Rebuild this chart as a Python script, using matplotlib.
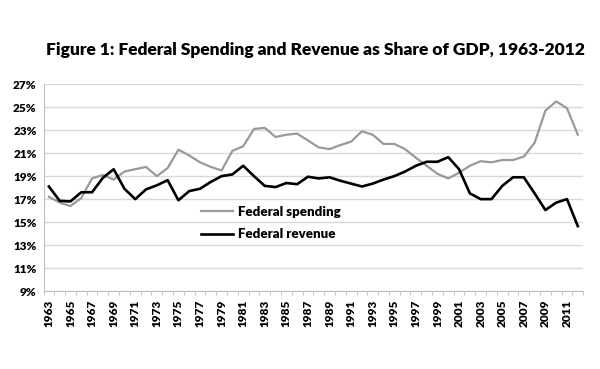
import matplotlib.pyplot as plt
import numpy as np

plt.rcParams["font.family"] = ["Lato", "DejaVu Sans"]
plt.rcParams["font.weight"] = "heavy"

years = list(range(1963, 2013))
spending = [17.2, 16.7, 16.4, 17.1, 18.8, 19.1, 18.7, 19.4, 19.6, 19.8,
            19.0, 19.7, 21.3, 20.8, 20.2, 19.8, 19.5, 21.2, 21.6, 23.1,
            23.2, 22.4, 22.6, 22.7, 22.1, 21.5, 21.35, 21.7, 22.0, 22.9,
            22.6, 21.8, 21.8, 21.35, 20.6, 19.9, 19.2, 18.8, 19.3, 19.9,
            20.3, 20.2, 20.4, 20.4, 20.7, 21.9, 24.7, 25.5, 24.9, 22.6]
revenue = [18.1, 16.85, 16.8, 17.6, 17.6, 18.85, 19.6, 17.9, 17.0, 17.85,
           18.2, 18.65, 16.9, 17.7, 17.9, 18.5, 19.0, 19.15, 19.9, 19.0,
           18.15, 18.05, 18.4, 18.3, 18.95, 18.8, 18.9, 18.6, 18.35, 18.1,
           18.35, 18.7, 19.0, 19.4, 19.9, 20.25, 20.25, 20.65, 19.6, 17.5,
           17.0, 17.0, 18.15, 18.9, 18.9, 17.5, 16.05, 16.7, 17.0, 14.65]
y_ticks = list(range(9, 28, 2))

fig = plt.figure(figsize=(6, 3.69), dpi=100)
ax = fig.add_axes([0.0725, 0.211, 0.8995, 0.561])

pos = np.arange(len(years))
ax.plot(pos, spending, color="#999999", linewidth=1.6, label="Federal spending")
ax.plot(pos, revenue, color="black", linewidth=1.9, label="Federal revenue")

ax.set_xlim(-0.5, len(years) - 0.5)
ax.set_ylim(9, 27)
ax.set_yticks(y_ticks)
ax.set_yticklabels([f"{v}%" for v in y_ticks])
ax.yaxis.grid(True, color="#d9d9d9", linewidth=1)
ax.set_axisbelow(True)

ax.set_xticks(pos[::2])
ax.set_xticklabels([str(y) for y in years[::2]], rotation=90)
ax.set_xticks(np.arange(-0.5, len(years), 1), minor=True)
ax.tick_params(axis="x", which="major", length=0, pad=6, labelsize=8.5)
ax.tick_params(axis="x", which="minor", length=3, color="#bfbfbf")
ax.tick_params(axis="y", length=0, pad=5, labelsize=8.5)

for s in ["top", "right"]:
    ax.spines[s].set_visible(False)
for s in ["left", "bottom"]:
    ax.spines[s].set_color("#bfbfbf")

ax.legend(loc="upper left", bbox_to_anchor=(0.27, 0.47), frameon=False,
          fontsize=9.5, handlelength=2.4, handletextpad=0.4, labelspacing=0.8)

fig.text(0.525, 0.865, "Figure 1: Federal Spending and Revenue as Share of GDP, 1963-2012",
         ha="center", va="center", fontsize=12.5, fontweight="heavy")

fig.savefig("out.png")
